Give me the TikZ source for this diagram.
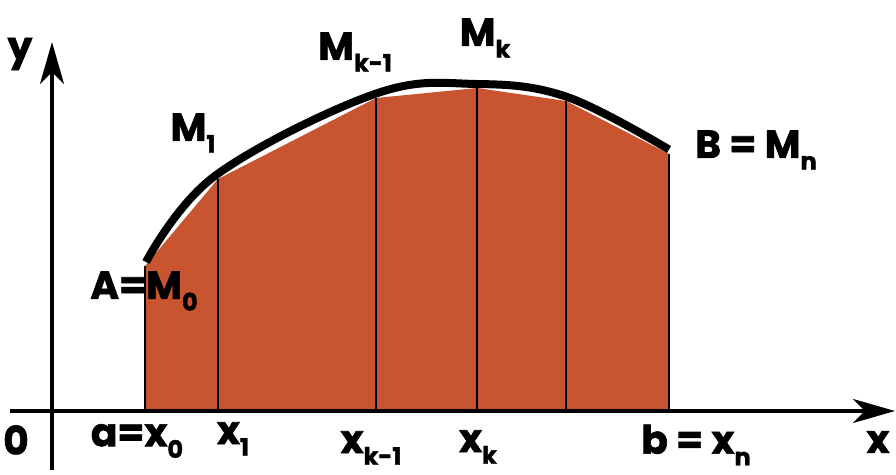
\documentclass[tikz,border=0pt]{standalone}
\usepackage{fontspec}
\setmainfont{Poppins}[BoldFeatures={FakeBold=1.6}]
\usetikzlibrary{arrows.meta}
\definecolor{fillc}{RGB}{200,84,48}
\newcommand\lowsub[1]{\raisebox{-0.3em}{\fontsize{24}{24}\selectfont #1}}
\begin{document}
\begin{tikzpicture}[x=1pt,y=-1pt,
  lbl/.style={font=\fontsize{39}{39}\selectfont\bfseries, inner sep=0pt},
  axisline/.style={line width=3.2pt, -{Stealth[length=42pt,width=24pt,inset=12pt]}},
  ordinate/.style={line width=1.3pt},
  curveline/.style={line width=8pt, line cap=butt, line join=round}]
\useasboundingbox (0,0) rectangle (896,474);
% coordinates
\coordinate (x0) at (145,410);
\coordinate (x1) at (218,410);
\coordinate (xk1) at (376,410);
\coordinate (xk) at (477,410);
\coordinate (xk2) at (566,410);
\coordinate (xn) at (669,410);
\coordinate (m0) at (145,266);
\coordinate (m1) at (218,179);
\coordinate (mk1) at (376,98);
\coordinate (mk) at (477,88);
\coordinate (mk2) at (566,101);
\coordinate (mn) at (669,154);
\coordinate (xs) at (10,411);
\coordinate (xe) at (895,411);
\coordinate (ys) at (52,470);
\coordinate (ye) at (52,42);
% filled polygon
\fill[fillc] (x0) -- (m0) -- (m1) -- (mk1) -- (mk) -- (mk2) -- (mn) -- (xn) -- cycle;
% ordinates
\draw[line width=2pt] (x0) -- (m0);
\draw[ordinate] (x1) -- (m1);
\draw[ordinate] (xk1) -- (mk1);
\draw[ordinate] (xk) -- (mk);
\draw[ordinate] (xk2) -- (mk2);
\draw[ordinate] (xn) -- (mn);
% curve
\draw[curveline] plot[smooth, tension=0.62] coordinates {(146,262) (215.5,175.5) (374.8,94) (477,84) (567.2,97) (669,149.5)};
% axes
\draw[axisline] (xs) -- (xe);
\draw[axisline] (ys) -- (ye);
% labels
\node[lbl] (ly) at (20,54) {y};
\node[lbl] (lx) at (878,442) {x};
\node[lbl] (lo) at (16,440) {0};
\node[lbl] (lA) at (144,291) {A=M\lowsub{0}};
\node[lbl] (lM1) at (193,133) {M\lowsub{1}};
\node[lbl] (lMk1) at (355,52) {M\lowsub{k-1}};
\node[lbl] (lMk) at (485,38) {M\lowsub{k}};
\node[lbl] (lB) at (756,150) {B = M\lowsub{n}};
\node[lbl] (la) at (137,441) {a=x\lowsub{0}};
\node[lbl] (lx1) at (233,439) {x\lowsub{1}};
\node[lbl] (lxk1) at (371,448) {x\lowsub{k-1}};
\node[lbl] (lxk) at (478,447) {x\lowsub{k}};
\node[lbl] (lb) at (696,445) {b = x\lowsub{n}};
\end{tikzpicture}
\end{document}
